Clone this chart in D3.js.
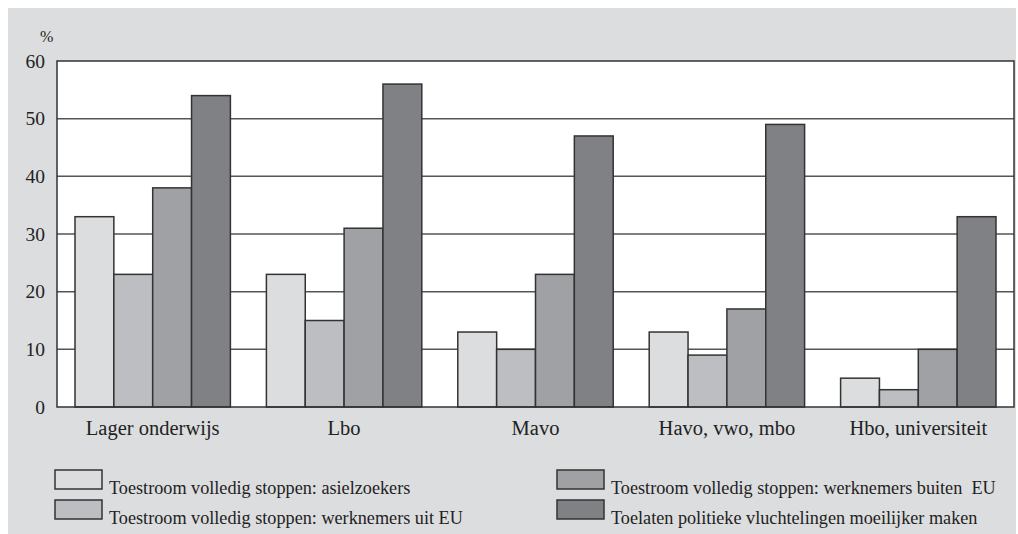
<!DOCTYPE html>
<html><head><meta charset="utf-8">
<script src="https://cdn.jsdelivr.net/npm/d3@7/dist/d3.min.js"></script>
<style>
body{margin:0;background:#fff;}
svg{display:block;}
</style></head><body>
<svg id="chart" width="1018" height="534"></svg>
<script>
const categories = ["Lager onderwijs","Lbo","Mavo","Havo, vwo, mbo","Hbo, universiteit"];
const seriesNames = [
  "Toestroom volledig stoppen: asielzoekers",
  "Toestroom volledig stoppen: werknemers uit EU",
  "Toestroom volledig stoppen: werknemers buiten  EU",
  "Toelaten politieke vluchtelingen moeilijker maken"
];
const asielzoekers = [33,23,13,13,5];
const werknemersEU = [23,15,10,9,3];
const werknemersBuitenEU = [38,31,23,17,10];
const politiekeVluchtelingen = [54,56,47,49,33];
const yTicks = [0,10,20,30,40,50,60];
const colors = ["#dcdddf","#bdbec1","#a0a1a5","#808185"];

const seriesValues = [asielzoekers, werknemersEU, werknemersBuitenEU, politiekeVluchtelingen];
const FONT = "Liberation Serif";
const TXT = "#222";

const svg = d3.select("#chart");
svg.append("rect").attr("x",8).attr("y",8).attr("width",1008).attr("height",526).attr("fill","#dcdddf");

const L=57, R=1014, T=61, B=407;
const x0 = d3.scaleBand().domain(categories).range([L,R]).padding(0);
const x1 = d3.scaleBand().domain(d3.range(4)).range([18, x0.bandwidth()-18]).padding(0);
const y = d3.scaleLinear().domain([0,60]).range([B,T]);

svg.append("rect").attr("x",L).attr("y",T).attr("width",R-L).attr("height",B-T).attr("fill","#fff");

svg.append("g").selectAll("line").data(yTicks.filter(d=>d>0&&d<60)).join("line")
  .attr("x1",L).attr("x2",R).attr("y1",d=>y(d)).attr("y2",d=>y(d))
  .attr("stroke","#555").attr("stroke-width",1.5);

const g = svg.append("g");
categories.forEach((c,ci)=>{
  seriesValues.forEach((vals,si)=>{
    g.append("rect")
      .attr("x",x0(c)+x1(si)).attr("width",x1.bandwidth())
      .attr("y",y(vals[ci])).attr("height",y(0)-y(vals[ci]))
      .attr("fill",colors[si]).attr("stroke","#333").attr("stroke-width",1.5);
  });
});

svg.append("rect").attr("x",L).attr("y",T).attr("width",R-L).attr("height",B-T)
  .attr("fill","none").attr("stroke","#333").attr("stroke-width",1.5);

const yAxis = d3.axisLeft(y).tickValues(yTicks).tickSize(0).tickPadding(12);
const ya = svg.append("g").attr("transform",`translate(${L},0)`).call(yAxis);
ya.attr("font-family",FONT).attr("font-size",19.5);
ya.select(".domain").remove();
ya.selectAll("text").attr("font-family",FONT).attr("font-size",19.5).attr("fill",TXT);

svg.append("text").attr("x",40).attr("y",42).attr("font-family",FONT).attr("font-size",16).attr("fill",TXT).text("%");

const xAxis = d3.axisBottom(x0).tickSize(0).tickPadding(13);
const xa = svg.append("g").attr("transform",`translate(0,${B})`).call(xAxis);
xa.attr("font-family",FONT).attr("font-size",20.5);
xa.select(".domain").remove();
xa.selectAll("text").attr("font-family",FONT).attr("font-size",20.5).attr("fill",TXT);

const legPos = [[55,470],[55,500],[557,470],[557,500]];
seriesNames.forEach((n,i)=>{
  const [lx,ly] = legPos[i];
  svg.append("rect").attr("x",lx).attr("y",ly).attr("width",47).attr("height",19)
    .attr("fill",colors[i]).attr("stroke","#333").attr("stroke-width",1.5);
  svg.append("text").attr("x",lx+54).attr("y",ly+24).attr("font-family",FONT).attr("font-size",18.2).attr("fill",TXT)
    .attr("xml:space","preserve").style("white-space","pre").text(n);
});
</script>
</body></html>
